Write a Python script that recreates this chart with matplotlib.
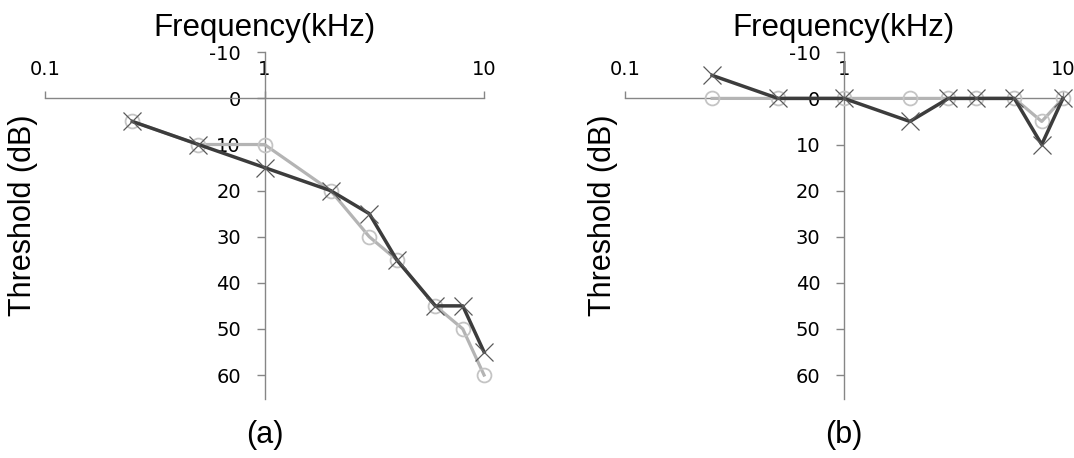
import matplotlib
matplotlib.use("Agg")
from matplotlib import pyplot as plt
from matplotlib.ticker import FixedLocator, FixedFormatter, NullLocator

plt.rcParams["axes.unicode_minus"] = False

# data (frequency in kHz, threshold in dB)
freq = [0.25, 0.5, 1, 2, 3, 4, 6, 8, 10]

a_gray = [5, 10, 10, 20, 30, 35, 45, 50, 60]
a_dark = [5, 10, 15, 20, 25, 35, 45, 45, 55]

b_gray = [0, 0, 0, 0, 0, 0, 0, 5, 0]
b_dark = [-5, 0, 0, 5, 0, 0, 0, 10, 0]

xticks = [0.1, 1, 10]
xlabels = ["0.1", "1", "10"]
yticks = [-10, 0, 10, 20, 30, 40, 50, 60]

GRID = "#868686"
LIGHT = "#b4b4b4"
DARK = "#3c3c3c"
TXT = "Liberation Sans"


def audiogram(ax, gray, dark, tag):
    ax.set_xscale("log")
    ax.set_xlim(0.1, 10)
    ax.set_ylim(65.2, -10)

    ax.plot(freq, gray, color=LIGHT, lw=2.3, marker="o", ms=10,
            mfc="none", mec="#c4c4c4", mew=1.3, clip_on=False, zorder=3)
    ax.plot(freq, dark, color=DARK, lw=2.5, marker="x", ms=13,
            mec="#5a5a5a", mew=0.9, clip_on=False, zorder=4)

    # excel style crossing axes
    ax.spines["right"].set_visible(False)
    ax.spines["bottom"].set_visible(False)
    ax.spines["left"].set_position(("data", 1))
    ax.spines["top"].set_position(("data", 0))
    for s in ("left", "top"):
        ax.spines[s].set_color(GRID)
        ax.spines[s].set_linewidth(1.0)

    ax.xaxis.set_major_locator(FixedLocator(xticks))
    ax.xaxis.set_major_formatter(FixedFormatter(xlabels))
    ax.xaxis.set_minor_locator(NullLocator())
    ax.tick_params(axis="x", which="both", bottom=False, labelbottom=False,
                   top=True, labeltop=True, direction="out", length=5,
                   width=1.0, color=GRID, pad=9, labelsize=14)

    ax.set_yticks(yticks)
    ax.tick_params(axis="y", left=True, right=False, direction="out",
                   length=6, width=1.0, color=GRID, pad=11, labelsize=14)
    for lab in ax.get_xticklabels() + ax.get_yticklabels():
        lab.set_family("DejaVu Sans")

    ax.set_title("Frequency(kHz)", fontsize=22.5, family=TXT, pad=11.5)
    ax.text(-0.051, 0.531, "Threshold (dB)", transform=ax.transAxes,
            rotation=90, ha="center", va="center", fontsize=22, family=TXT)
    ax.text(0.5, -0.104, tag, transform=ax.transAxes, ha="center",
            va="center", fontsize=22, family=TXT)
    ax.patch.set_visible(False)


fig = plt.figure(figsize=(10.74, 4.58), dpi=100)
ax1 = fig.add_axes([0.0419, 0.1288, 0.4088, 0.757])
ax2 = fig.add_axes([0.5819, 0.1288, 0.4078, 0.757])

audiogram(ax1, a_gray, a_dark, "(a)")
audiogram(ax2, b_gray, b_dark, "(b)")

plt.savefig("out.png", dpi=100, format="png")
